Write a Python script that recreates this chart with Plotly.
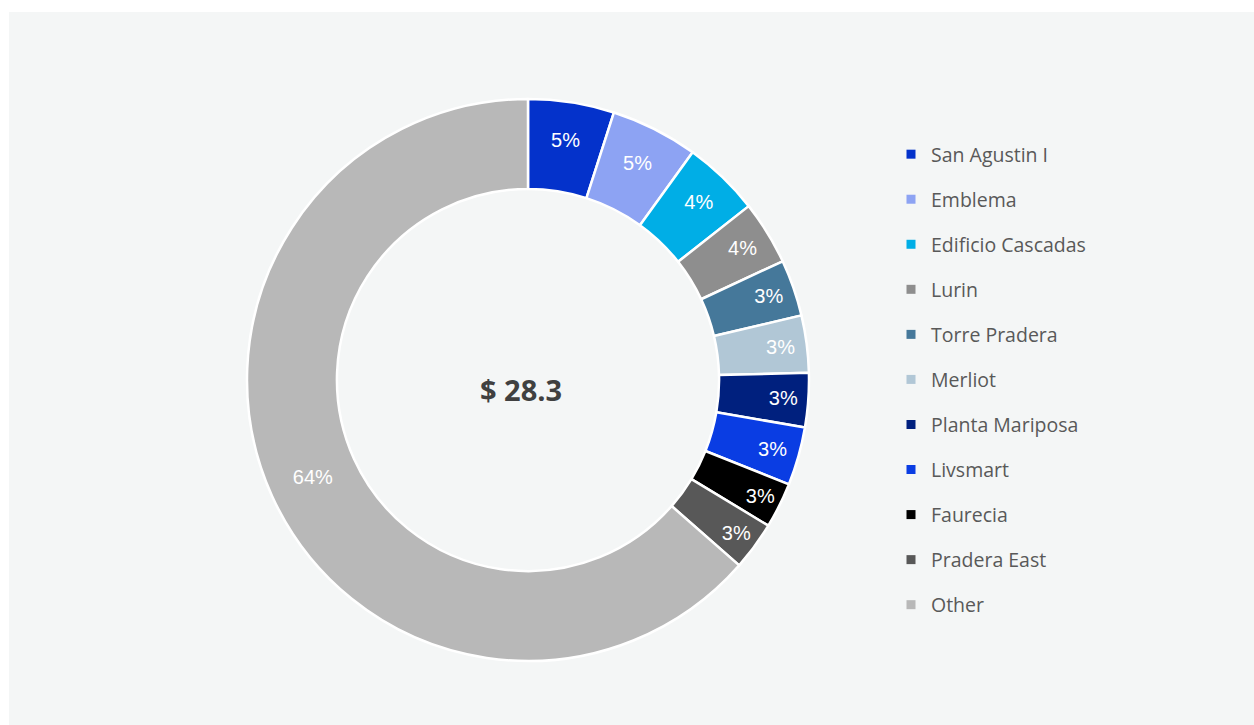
import plotly.graph_objects as go

labels = ["San Agustin I", "Emblema", "Edificio Cascadas", "Lurin", "Torre Pradera",
          "Merliot", "Planta Mariposa", "Livsmart", "Faurecia", "Pradera East", "Other"]
values = [1.40, 1.42, 1.25, 1.04, 0.92, 0.93, 0.88, 0.95, 0.74, 0.79, 17.98]
colors = ["#0432CB", "#8DA3F3", "#00AEE6", "#8E8E8E", "#45789A", "#B1C7D6",
          "#00207E", "#0A3DE3", "#000000", "#585858", "#B8B8B8"]
total_label = "$ 28.3"

W, H = 1254, 725
cx, cy, r = 528, 380, 281
bg = "#F4F6F6"

fig = go.Figure()
fig.add_trace(go.Pie(
    labels=labels, values=values, sort=False, direction="clockwise", rotation=0,
    hole=0.68,
    marker=dict(colors=colors, line=dict(color="#FFFFFF", width=2.5)),
    texttemplate="%{percent:.0%}", textposition="inside",
    insidetextorientation="horizontal",
    textfont=dict(family="Liberation Sans, Arial", size=20, color="#FFFFFF"),
    showlegend=False, hoverinfo="label+value+percent",
    domain=dict(x=[(cx - r) / W, (cx + r) / W], y=[1 - (cy + r) / H, 1 - (cy - r) / H]),
))

for i, (lab, col) in enumerate(zip(labels, colors)):
    fig.add_trace(go.Scatter(
        x=[None], y=[None], mode="markers", name=lab, legendgroup=str(i),
        marker=dict(symbol="square", size=9, color=col),
        showlegend=True,
    ))

fig.add_annotation(
    text="<b>" + total_label + "</b>", x=521 / W, y=1 - 389 / H, xref="paper", yref="paper",
    showarrow=False, font=dict(family="Open Sans, Noto Sans", size=29, color="#404040"),
    xanchor="center", yanchor="middle",
)

fig.update_layout(
    width=W, height=H,
    margin=dict(l=0, r=0, t=0, b=0),
    paper_bgcolor=bg, plot_bgcolor=bg,
    xaxis=dict(visible=False), yaxis=dict(visible=False),
    legend=dict(
        x=891 / W, y=1 - 135 / H, xanchor="left", yanchor="top",
        font=dict(family="Open Sans, Noto Sans", size=19.5, color="#595959"),
        tracegroupgap=16.7, bgcolor="rgba(0,0,0,0)",
    ),
    shapes=[
        dict(type="rect", xref="paper", yref="paper", x0=0, x1=1, y0=1 - 12 / H, y1=1,
             fillcolor="#FFFFFF", line=dict(width=0), layer="below"),
        dict(type="rect", xref="paper", yref="paper", x0=0, x1=9 / W, y0=0, y1=1,
             fillcolor="#FFFFFF", line=dict(width=0), layer="below"),
    ],
)

fig.write_html("out.html")
